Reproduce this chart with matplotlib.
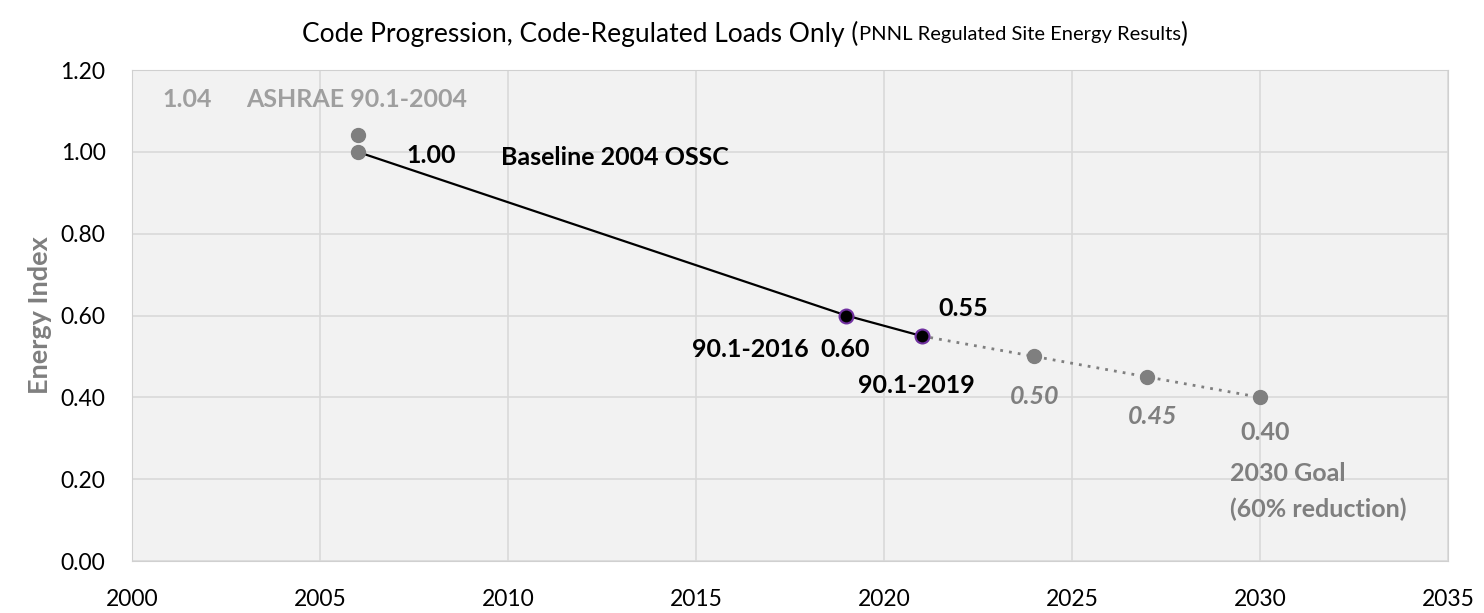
import matplotlib.pyplot as plt

plt.rcParams['font.family'] = ['Lato', 'DejaVu Sans']

# code progression (solid)
code_years = [2006, 2019, 2021]
code_index = [1.00, 0.60, 0.55]

# ASHRAE 90.1-2004 reference point
ashrae_year = [2006]
ashrae_index = [1.04]

# path to the 2030 goal (dotted)
goal_years = [2021, 2024, 2027, 2030]
goal_index = [0.55, 0.50, 0.45, 0.40]

x_ticks = [2000, 2005, 2010, 2015, 2020, 2025, 2030, 2035]
y_ticks = [0.0, 0.2, 0.4, 0.6, 0.8, 1.0, 1.2]

GRAY = '#7f7f7f'
LGRAY = '#9f9f9f'

fig = plt.figure(figsize=(14.84, 6.13), dpi=100)
ax = fig.add_axes([0.0889, 0.0848, 0.8868, 0.801])
ax.set_facecolor('#f2f2f2')

ax.plot(goal_years, goal_index, color=GRAY, linestyle=(0, (1, 2.2)), linewidth=2,
        marker='o', markersize=10, markerfacecolor=GRAY, markeredgecolor=GRAY, zorder=3)
ax.plot(code_years, code_index, color='black', linewidth=1.6, zorder=4)
ax.plot(code_years[1:], code_index[1:], linestyle='none', marker='o', markersize=10,
        markerfacecolor='black', markeredgecolor='#7030a0', markeredgewidth=1.5, zorder=5)
ax.plot(code_years[:1], code_index[:1], linestyle='none', marker='o', markersize=10,
        color=GRAY, zorder=5)
ax.plot(ashrae_year, ashrae_index, linestyle='none', marker='o', markersize=10,
        color=GRAY, zorder=5)

ax.set_xlim(2000, 2035)
ax.set_ylim(0, 1.2)
ax.set_xticks(x_ticks)
ax.set_yticks(y_ticks)
ax.set_yticklabels([f'{v:.2f}' for v in y_ticks])
ax.tick_params(labelsize=16.5, length=0)
ax.tick_params(axis='y', pad=19)
ax.tick_params(axis='x', pad=20)
ax.grid(True, color='#d9d9d9', linewidth=1.2)
ax.set_axisbelow(True)
for s in ax.spines.values():
    s.set_color('#d0d0d0')

ax.set_ylabel('Energy Index', fontsize=19.5, fontweight='bold', color=GRAY, labelpad=6)

bold = dict(fontsize=18, fontweight='bold', ha='center', va='center')
ax.text(2001.46, 1.129, '1.04', color=LGRAY, **bold)
ax.text(2005.98, 1.129, 'ASHRAE 90.1-2004', color=LGRAY, **bold)
ax.text(2007.95, 0.992, '1.00', color='black', **bold)
ax.text(2012.85, 0.987, 'Baseline 2004 OSSC', color='black', **bold)
ax.text(2016.44, 0.518, '90.1-2016', color='black', **bold)
ax.text(2018.96, 0.516, '0.60', color='black', **bold)
ax.text(2022.1, 0.618, '0.55', color='black', **bold)
ax.text(2020.85, 0.430, '90.1-2019', color='black', **bold)
ax.text(2024.02, 0.401, '0.50', color=GRAY, style='italic', **bold)
ax.text(2027.15, 0.352, '0.45', color=GRAY, style='italic', **bold)
ax.text(2030.13, 0.313, '0.40', color=GRAY, **bold)
ax.text(2029.2, 0.213, '2030 Goal', color=GRAY, fontsize=18, fontweight='bold', ha='left', va='center')
ax.text(2029.2, 0.127, '(60% reduction)', color=GRAY, fontsize=18, fontweight='bold', ha='left', va='center')

# title with smaller parenthetical part
renderer = fig.canvas.get_renderer()
t1 = fig.text(0, 0.944, 'Code Progression, Code-Regulated Loads Only (', fontsize=19, va='center')
t2 = fig.text(0, 0.944, 'PNNL Regulated Site Energy Results', fontsize=14.5, va='center')
t3 = fig.text(0, 0.944, ')', fontsize=19, va='center')
widths = [t.get_window_extent(renderer).width / fig.bbox.width for t in (t1, t2, t3)]
x0 = 0.5 - sum(widths) / 2 + 0.002
for t, w in zip((t1, t2, t3), widths):
    t.set_x(x0)
    x0 += w

fig.savefig('out.png', dpi=100)
